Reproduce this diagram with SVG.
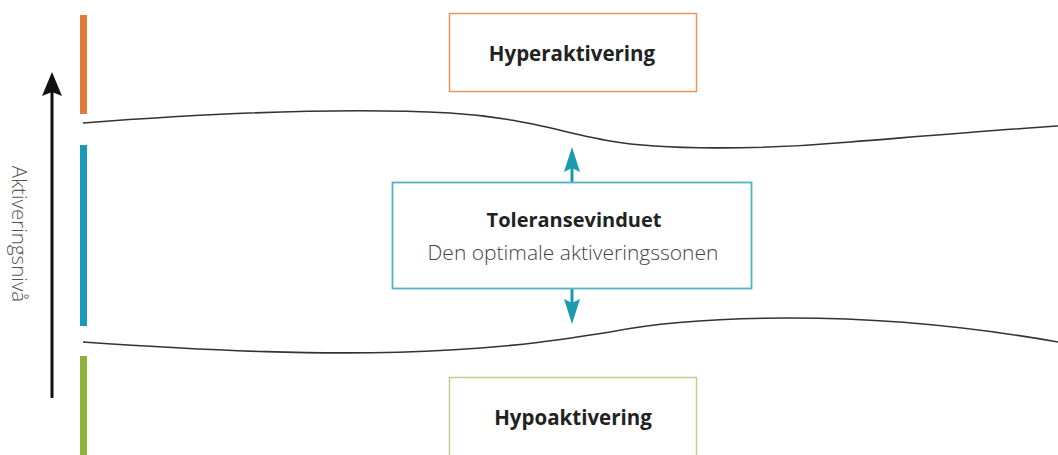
<svg xmlns="http://www.w3.org/2000/svg" width="1058" height="455" viewBox="0 0 1058 455">
<defs>
<style>
.t{font-family:"Open Sans","Liberation Sans",sans-serif;fill:#222;text-anchor:middle}
.b{font-weight:700;font-size:20.5px}
.l{font-weight:300;font-size:21px;fill:#444}
.curve{fill:none;stroke:#333;stroke-width:1.6}
.tl{stroke:#1a9bb0;stroke-width:3}
.th{fill:#1a9bb0}
</style>
</defs>
<rect width="1058" height="455" fill="#fff"/>
<g id="axis">
<rect x="80" y="15" width="7" height="99" fill="#e07b39"/>
<rect x="80" y="145" width="7" height="181" fill="#1a9bb5"/>
<rect x="80" y="356" width="7" height="99" fill="#8fb33a"/>
<line x1="52" y1="398" x2="52" y2="90" stroke="#111" stroke-width="3"/>
<path d="M52,72 L62,96 L52,92 L42,96 Z" fill="#111"/>
<text class="t" transform="translate(12,234) rotate(90)" style="font-weight:300;font-size:20.5px;fill:#555">Aktiveringsnivå</text>
</g>
<g id="connectors">
<path class="curve" d="M83,123 C200,114 340,107 450,113 C520,117 560,132 610,141 C660,150 760,150 850,142 C950,134 1010,129 1058,126"/>
<path class="curve" d="M83,342 C200,350 330,357 450,350 C520,346 560,340 610,332 C660,322 720,318 790,318 C900,318 990,330 1058,342"/>
<line class="tl" x1="572" y1="182" x2="572" y2="166"/>
<path class="th" d="M572,147 L580,172 L572,168 L564,172 Z"/>
<line class="tl" x1="572" y1="289" x2="572" y2="305"/>
<path class="th" d="M572,324 L580,299 L572,303 L564,299 Z"/>
</g>
<g id="hyper">
<rect x="449.5" y="13.5" width="247" height="78" fill="#fff" stroke="#e8945a" stroke-width="1.5"/>
<text class="t b" x="572" y="61">Hyperaktivering</text>
</g>
<g id="toleranse">
<rect x="392.5" y="182.5" width="359" height="106" fill="#fff" stroke="#4fb3c4" stroke-width="1.8"/>
<text class="t b" x="574" y="227" style="font-size:20px">Toleransevinduet</text>
<text class="t l" x="573" y="260">Den optimale aktiveringssonen</text>
</g>
<g id="hypo">
<rect x="449.5" y="377.5" width="247" height="90" fill="#fff" stroke="#bcd08a" stroke-width="1.5"/>
<text class="t b" x="573" y="425">Hypoaktivering</text>
</g>
</svg>
